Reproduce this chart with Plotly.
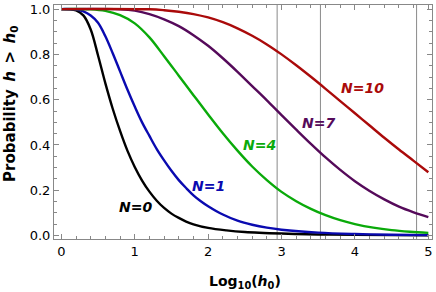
import plotly.graph_objects as go

# ---- data ----
x_n0 = [0, 0.2, 0.3, 0.4, 0.5, 0.6, 0.7, 0.8, 0.9, 1.0, 1.1, 1.2, 1.3, 1.4, 1.5, 1.6, 1.7, 1.8, 2.0, 2.25, 2.5, 3.0, 3.5, 4.0, 5.0]
y_n0 = [1.0, 0.994, 0.972, 0.91, 0.795, 0.672, 0.56, 0.462, 0.375, 0.303, 0.243, 0.194, 0.154, 0.122, 0.097, 0.078, 0.062, 0.05, 0.034, 0.023, 0.016, 0.009, 0.005, 0.003, 0.001]

x_n1 = [0, 0.2, 0.3, 0.4, 0.5, 0.6, 0.7, 0.8, 0.9, 1.0, 1.1, 1.2, 1.3, 1.4, 1.5, 1.6, 1.7, 1.8, 1.9, 2.0, 2.2, 2.4, 2.6, 2.8, 3.0, 3.5, 4.0, 4.5, 5.0]
y_n1 = [1.0, 0.998, 0.99, 0.972, 0.94, 0.88, 0.805, 0.725, 0.645, 0.57, 0.5, 0.44, 0.382, 0.332, 0.286, 0.245, 0.21, 0.178, 0.152, 0.13, 0.093, 0.066, 0.048, 0.035, 0.026, 0.013, 0.007, 0.004, 0.002]

x_n4 = [0, 0.4, 0.6, 0.8, 1.0, 1.2, 1.4, 1.6, 1.8, 2.0, 2.2, 2.4, 2.6, 2.8, 3.0, 3.2, 3.4, 3.6, 3.8, 4.0, 4.25, 4.5, 4.75, 5.0]
y_n4 = [1.0, 0.999, 0.992, 0.973, 0.937, 0.875, 0.792, 0.706, 0.62, 0.535, 0.452, 0.375, 0.305, 0.245, 0.193, 0.152, 0.118, 0.09, 0.068, 0.051, 0.035, 0.024, 0.017, 0.012]

x_n7 = [0, 0.8, 1.0, 1.2, 1.4, 1.6, 1.8, 2.0, 2.2, 2.4, 2.6, 2.8, 3.0, 3.2, 3.4, 3.6, 3.8, 4.0, 4.2, 4.4, 4.6, 4.8, 5.0]
y_n7 = [1.0, 0.999, 0.993, 0.978, 0.955, 0.925, 0.885, 0.838, 0.783, 0.723, 0.66, 0.597, 0.532, 0.468, 0.405, 0.345, 0.29, 0.24, 0.197, 0.16, 0.128, 0.103, 0.082]

x_n10 = [0, 1.2, 1.4, 1.6, 1.8, 2.0, 2.2, 2.4, 2.6, 2.8, 3.0, 3.2, 3.4, 3.6, 3.8, 4.0, 4.2, 4.4, 4.6, 4.8, 5.0]
y_n10 = [1.0, 0.999, 0.995, 0.988, 0.978, 0.963, 0.942, 0.915, 0.882, 0.844, 0.8, 0.752, 0.701, 0.648, 0.594, 0.54, 0.486, 0.432, 0.38, 0.33, 0.28]

series_names = ["N=0", "N=1", "N=4", "N=7", "N=10"]
series_x = [x_n0, x_n1, x_n4, x_n7, x_n10]
series_y = [y_n0, y_n1, y_n4, y_n7, y_n10]
colors = ["#000000", "#0a0ab0", "#0aaa0a", "#550a5a", "#aa0a0a"]

label_x = [1.01, 2.0, 2.705, 3.50, 4.105]
label_y = [0.128, 0.219, 0.40, 0.496, 0.65]

vlines = [2.94, 3.53, 4.84]

x_ticks = [0, 1, 2, 3, 4, 5]
y_ticks = [0.0, 0.2, 0.4, 0.6, 0.8, 1.0]
y_tick_text = ["0.0", "0.2", "0.4", "0.6", "0.8", "1.0"]

x_title = "<b>Log<sub>10</sub>(<i>h</i><sub>0</sub>)</b>"
y_title = "<b>Probability\u2002<i>h</i>\u2002>\u2002<i>h</i><sub>0</sub></b>"

FONT = "DejaVu Sans"

fig = go.Figure()

for xs, ys, c, name in zip(series_x, series_y, colors, series_names):
    fig.add_trace(go.Scatter(x=xs, y=ys, mode="lines", name=name,
                             line=dict(color=c, width=2.4, shape="spline", smoothing=1.0),
                             showlegend=False, hoverinfo="skip"))

for vx in vlines:
    fig.add_shape(type="line", x0=vx, x1=vx, y0=0, y1=1, xref="x", yref="paper",
                  line=dict(color="#8a8a8a", width=1), layer="below")

for name, lx, ly, c in zip(series_names, label_x, label_y, colors):
    fig.add_annotation(x=lx, y=ly, text="<b><i>" + name + "</i></b>", showarrow=False,
                       font=dict(family=FONT, size=14, color=c), xanchor="center", yanchor="middle")

# axis titles
fig.add_annotation(x=0.505, y=-0.184, xref="paper", yref="paper", text=x_title, showarrow=False,
                   font=dict(family=FONT, size=14, color="#000000"), xanchor="center", yanchor="middle")
fig.add_annotation(x=-0.114, y=0.577, xref="paper", yref="paper", text=y_title, showarrow=False,
                   textangle=-90,
                   font=dict(family=FONT, size=15, color="#000000"), xanchor="center", yanchor="middle")

axis_common = dict(showgrid=False, zeroline=False, showline=True, linecolor="#888888", linewidth=1,
                   mirror="ticks", ticks="inside", tickcolor="#888888", ticklen=5, tickwidth=1,
                   automargin=False,
                   tickfont=dict(family=FONT, size=13, color="#000000"))

fig.update_xaxes(range=[-0.1, 5.05], tickvals=x_ticks,
                 minor=dict(dtick=0.2, ticks="inside", ticklen=3, tickcolor="#888888", tickwidth=1),
                 **axis_common)
fig.update_yaxes(range=[-0.015, 1.018], tickvals=y_ticks, ticktext=y_tick_text,
                 minor=dict(dtick=0.05, ticks="inside", ticklen=3, tickcolor="#888888", tickwidth=1),
                 **axis_common)

fig.update_layout(width=436, height=292, autosize=False,
                  margin=dict(l=54, r=4, t=5, b=53),
                  plot_bgcolor="white", paper_bgcolor="white",
                  font=dict(family=FONT, size=13, color="#000000"))

fig.write_html("out.html", config={"displayModeBar": False},
               post_script="document.body.style.margin='0px';document.body.style.overflow='hidden';")
